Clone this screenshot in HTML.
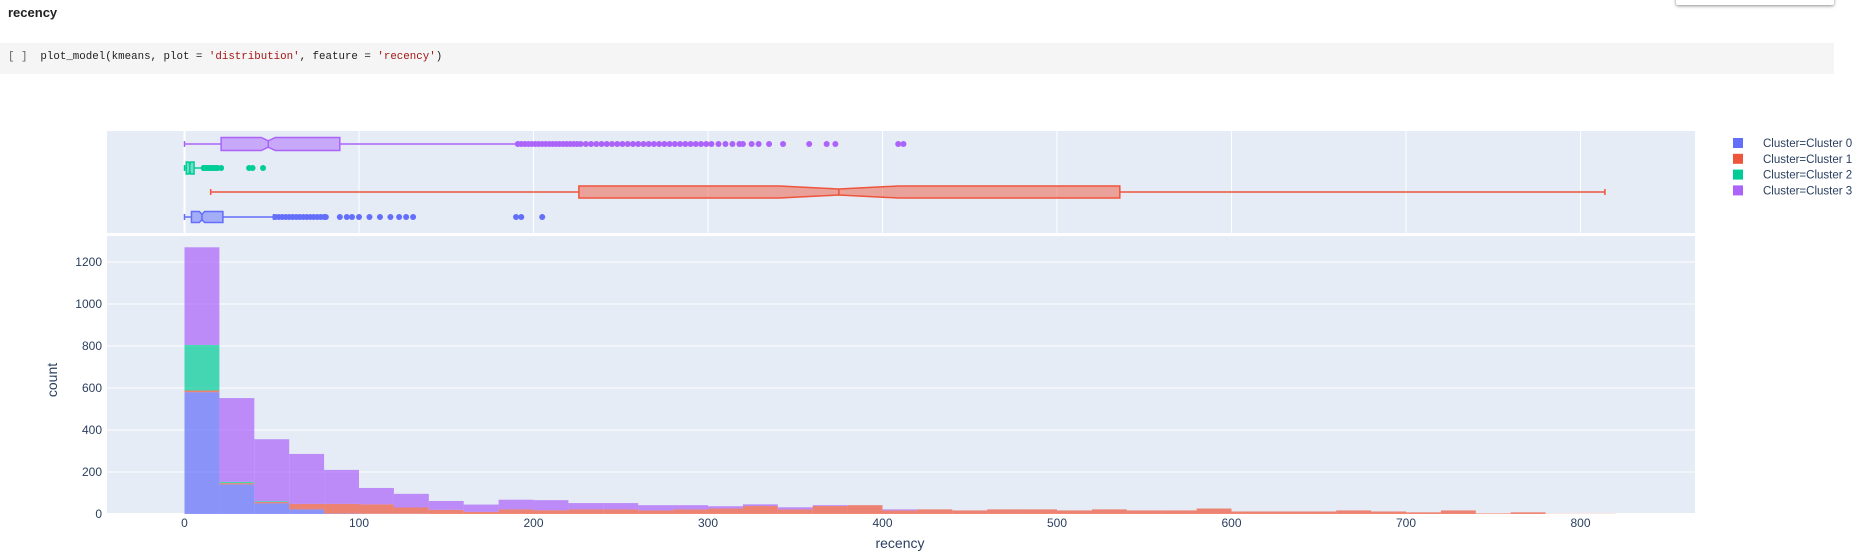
<!DOCTYPE html>
<html><head><meta charset="utf-8"><style>
body{margin:0;width:1856px;height:558px;background:#fff;overflow:hidden;position:relative;font-family:"Liberation Sans",sans-serif}
#hd{position:absolute;left:8px;top:5px;font-weight:bold;font-size:13px;color:#212121}
#cell{position:absolute;left:0;top:43px;width:1834px;height:31px;background:#f5f5f5}
#code{position:absolute;left:8px;top:51px;font-family:"Liberation Mono",monospace;font-size:10.8px;color:#212121;white-space:pre}
.s{color:#a31515}
#pop{position:absolute;left:1676px;top:-4px;width:158px;height:9px;background:#fff;box-shadow:0 1px 3px rgba(0,0,0,.45);border-radius:2px}
svg{position:absolute;left:0;top:0}
</style></head><body>
<div id="hd">recency</div>
<div id="cell"></div>
<div id="code"><span style="color:#616161">[ ]</span>  plot_model(kmeans, plot = <span class="s">'distribution'</span>, feature = <span class="s">'recency'</span>)</div>
<div id="pop"></div>
<svg id="chart" width="1856" height="558"></svg>
<script>
const binStart=[0,20,40,60,80,100,120,140,160,180,200,220,240,260,280,300,320,340,360,380,400,420,440,460,480,500,520,540,560,580,600,620,640,660,680,700,720,740,760,780,800];
const c0=[580,141,51,22,2,1,1,0,0,0,0,0,0,0,0,0,0,0,0,0,0,0,0,0,0,0,0,0,0,0,0,0,0,0,0,0,0,0,0,0,0];
const c1=[8,6,6,26,46,45,30,20,10,22,18,22,22,17,22,26,38,22,38,42,17,22,17,22,22,17,22,17,17,26,12,12,12,17,12,8,17,3,8,1,1];
const c2=[217,6,4,0,0,0,0,0,0,0,0,0,0,0,0,0,0,0,0,0,0,0,0,0,0,0,0,0,0,0,0,0,0,0,0,0,0,0,0,0,0];
const c3=[465,399,295,238,162,78,65,42,35,46,48,30,30,25,20,11,8,10,4,0,5,0,0,0,0,0,0,0,0,0,0,0,0,0,0,0,0,0,0,0,0];
const yTicks=[0,200,400,600,800,1000,1200];
const xTicks=[0,100,200,300,400,500,600,700,800];
const names=["Cluster 0","Cluster 1","Cluster 2","Cluster 3"];
const colors=["#636efa","#EF553B","#00cc96","#ab63fa"];
// box stats: [lowWhisker,q1,median,q3,highWhisker,notchHalf]
const box0=[0,4,10,22,51,1.5];
const box1=[15,226,375,536,814,34];
const box2=[0,1,3,5.5,10.5,0.5];
const box3=[0,21,48,89,191,4];
const out0=[52,54,56,58,60,62,64,66,68,70,72,74,76,78,80,81,89,93,96,100,106,112,118,123,127,131,190,193,205];
const out2=[11,12,13,14,15,16,17,18,19,21,37,39,45];
const out3=[191,193,195,197,199,201,203,205,207,209,211,213,215,217,219,221,223,225,227,230,233,236,239,242,245,248,251,254,257,260,263,266,269,272,275,278,281,284,287,290,293,296,299,302,306,310,314,318,320,325,329,335,343,358,368,373,409,412];
const BIN=20;
const L=107,R=1695;
const X=v=>184.5+v*1.745;
const Y=v=>514-v*0.21;
const svg=document.getElementById('chart');
const NS='http://www.w3.org/2000/svg';
function mk(t,a,p){const e=document.createElementNS(NS,t);for(const k in a)e.setAttribute(k,a[k]);(p||svg).appendChild(e);return e;}
let bg1=mk('rect',{x:L,y:131,width:R-L,height:102,fill:'#e5ecf6'});


let bg2=mk('rect',{x:L,y:236,width:R-L,height:278,fill:'#e5ecf6'});


xTicks.forEach(t=>{let g=mk('line',{x1:X(t),x2:X(t),y1:131,y2:233,stroke:'#fff','stroke-width':t===0?2:1});

});
yTicks.forEach(t=>{let g=mk('line',{x1:L,x2:R,y1:Y(t),y2:Y(t),stroke:'#fff','stroke-width':t===0?2:1});


let tx=mk('text',{x:102,y:Y(t)+4,'text-anchor':'end','font-size':12,fill:'#2a3f5f'});tx.textContent=t;

});
xTicks.forEach(t=>{let tx=mk('text',{x:X(t),y:527,'text-anchor':'middle','font-size':12,fill:'#2a3f5f'});tx.textContent=t;

});
const series=[c0,c1,c2,c3];
binStart.forEach((b,i)=>{let base=0;series.forEach((s,k)=>{const v=s[i];if(v>0){let r=mk('rect',{x:X(b),y:Y(base+v),width:X(b+BIN)-X(b),height:Y(base)-Y(base+v),fill:colors[k],'fill-opacity':0.7});

}base+=v;});});
function drawBox(st,outs,cy,h,k){const [lo,q1,md,q3,hi,nh]=st;const c=colors[k];const g=mk('g',{});


const t=cy-h/2,bt=cy+h/2,ind=h*0.25;
mk('line',{x1:X(lo),x2:X(q1),y1:cy,y2:cy,stroke:c,'stroke-width':1.5},g);
mk('line',{x1:X(q3),x2:X(hi),y1:cy,y2:cy,stroke:c,'stroke-width':1.5},g);
mk('line',{x1:X(lo),x2:X(lo),y1:cy-3,y2:cy+3,stroke:c,'stroke-width':1.5},g);
mk('line',{x1:X(hi),x2:X(hi),y1:cy-3,y2:cy+3,stroke:c,'stroke-width':1.5},g);
const d=`M${X(q1)},${t}L${X(md-nh)},${t}L${X(md)},${t+ind}L${X(md+nh)},${t}L${X(q3)},${t}L${X(q3)},${bt}L${X(md+nh)},${bt}L${X(md)},${bt-ind}L${X(md-nh)},${bt}L${X(q1)},${bt}Z`;
mk('path',{d:d,fill:c,'fill-opacity':0.5,stroke:c,'stroke-width':1.5},g);
mk('line',{x1:X(md),x2:X(md),y1:t+ind,y2:bt-ind,stroke:c,'stroke-width':1.5},g);
outs.forEach(o=>{let p=mk('circle',{cx:X(o),cy:cy,r:3,fill:c},g);

});}
drawBox(box3,out3,144,13,3);
drawBox(box2,out2,168,12,2);
drawBox(box1,[],192,12,1);
drawBox(box0,out0,217,11,0);
let xt=mk('text',{x:900,y:548,'text-anchor':'middle','font-size':14,fill:'#2a3f5f'});xt.textContent='recency';


let yt=mk('text',{x:57,y:380,'text-anchor':'middle','font-size':14,fill:'#2a3f5f',transform:'rotate(-90 57 380)'});yt.textContent='count';


names.forEach((n,i)=>{const y=143+i*15.8;const g=mk('g',{});


mk('rect',{x:1733,y:y-5,width:10,height:10,fill:colors[i]},g);
let t=mk('text',{x:1763,y:y+4,'font-size':11.5,fill:'#2a3f5f'},g);t.textContent='Cluster='+n;});
</script>
</body></html>
